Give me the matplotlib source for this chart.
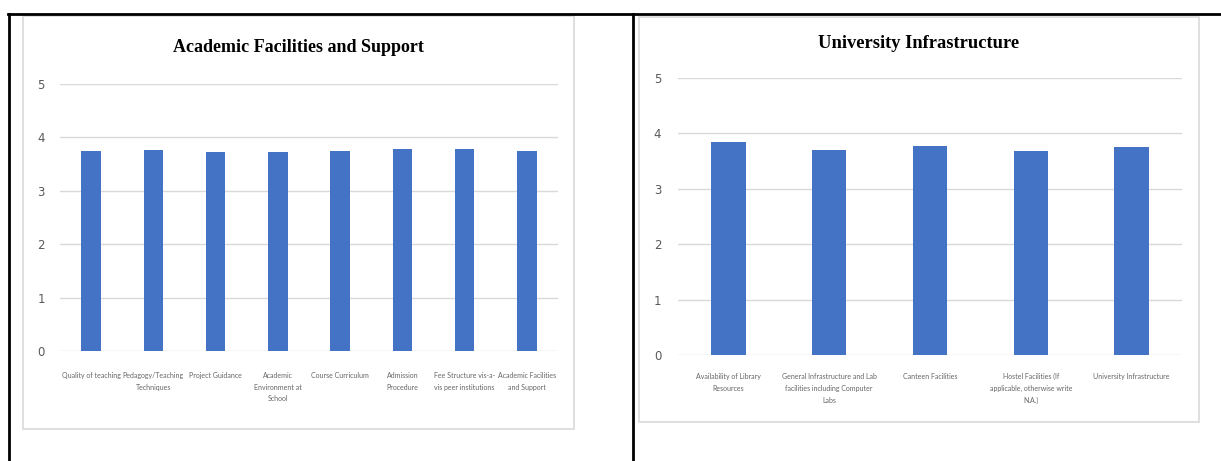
import matplotlib.pyplot as plt
from matplotlib.patches import Rectangle
from matplotlib.lines import Line2D

# data
acad_labels = ["Quality of teaching", "Pedagogy/Teaching\nTechniques", "Project Guidance",
               "Academic\nEnvironment at\nSchool", "Course Curriculum", "Admission\nProcedure",
               "Fee Structure vis-a-\nvis peer institutions", "Academic Facilities\nand Support"]
acad_values = [3.74, 3.77, 3.73, 3.73, 3.75, 3.79, 3.79, 3.75]

infra_labels = ["Availability of Library\nResources",
                "General Infrastructure and Lab\nfacilities including Computer\nLabs",
                "Canteen Facilities",
                "Hostel Facilities (If\napplicable, otherwise write\nN.A.)",
                "University Infrastructure"]
infra_values = [3.84, 3.70, 3.77, 3.68, 3.75]

W, H = 1221, 461
fig = plt.figure(figsize=(W / 100, H / 100), dpi=100)
fig.patch.set_facecolor("white")


def box(x0, y0, x1, y1):
    # pixel coords (top-left origin) -> figure fraction
    return [x0 / W, 1 - y1 / H, (x1 - x0) / W, (y1 - y0) / H]


def fline(xs, ys, **kw):
    fig.add_artist(Line2D([x / W for x in xs], [1 - y / H for y in ys],
                          transform=fig.transFigure, **kw))


# table borders of the document
fline([8, 1221], [14, 14], color="black", lw=2.0)
fline([9, 9], [14, 461], color="black", lw=2.0)
fline([633, 633], [14, 461], color="black", lw=2.0)

# chart area frames
for (x0, y0, x1, y1) in [(23, 16, 574, 429), (639, 17, 1199, 422)]:
    fig.add_artist(Rectangle((x0 / W, 1 - y1 / H), (x1 - x0) / W, (y1 - y0) / H,
                             transform=fig.transFigure, fill=False,
                             edgecolor="#d9d9d9", lw=1.2))


def draw(rect, labels, values, title, title_x, title_y, title_size, width, pad, ypad):
    ax = fig.add_axes(box(*rect))
    x = range(len(values))
    ax.bar(x, values, width=width, color="#4472c4", zorder=3)
    ax.set_ylim(0, 5)
    ax.set_xlim(-0.5, len(values) - 0.5)
    ax.set_yticks([0, 1, 2, 3, 4, 5])
    ax.yaxis.grid(True, color="#d9d9d9", lw=1.0, zorder=0)
    for s in ax.spines.values():
        s.set_visible(False)
    ax.tick_params(axis="y", length=0, pad=ypad, labelsize=8.5, labelcolor="#595959")
    ax.tick_params(axis="x", length=0, pad=pad)
    ax.set_xticks(list(x))
    ax.set_xticklabels(labels, fontsize=5.0, color="#666666", family="Lato",
                       linespacing=1.8)
    for t in ax.get_yticklabels():
        t.set_family("Liberation Sans Narrow")
    fig.text(title_x / W, 1 - title_y / H, title, ha="center", va="center",
             family="Liberation Serif", fontweight="bold", fontsize=title_size)
    return ax


draw((60, 84, 558, 351), acad_labels, acad_values,
     "Academic Facilities and Support", 298, 47, 13.0, 0.31, 15, 11)
draw((678, 78, 1182, 355), infra_labels, infra_values,
     "University Infrastructure", 919, 44, 13.3, 0.34, 13, 12)

plt.savefig("out.png", dpi=100)
